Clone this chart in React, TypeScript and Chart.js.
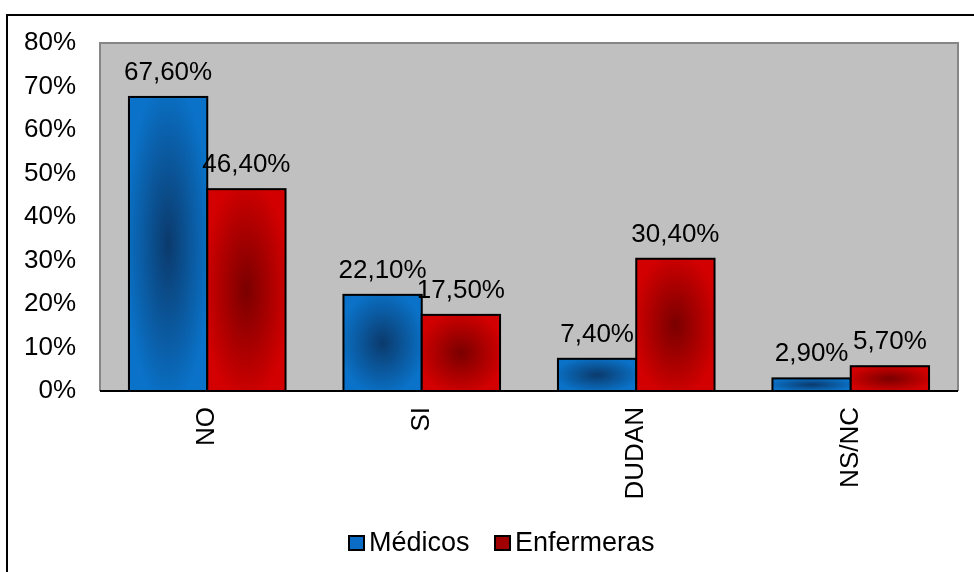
import React, { useEffect, useRef } from "react";
import { Chart, registerables } from "chart.js";

Chart.register(...registerables);

const categories = ["NO", "SI", "DUDAN", "NS/NC"];
const medicos = [67.6, 22.1, 7.4, 2.9];
const enfermeras = [46.4, 17.5, 30.4, 5.7];
const seriesNames = ["Médicos", "Enfermeras"];
const yMax = 80;
const yStep = 10;

const FONT = "'Liberation Sans', Arial, sans-serif";

const fmt = (v: number) => v.toFixed(2).replace(".", ",") + "%";

const gradColors = [
  { center: "#0b3a6c", edge: "#0a72c8" },
  { center: "#7a0000", edge: "#d20000" },
];

const customPlugin = {
  id: "custom",
  beforeDraw(chart: any) {
    const { ctx, chartArea } = chart;
    ctx.save();
    ctx.fillStyle = "#ffffff";
    ctx.fillRect(0, 0, chart.width, chart.height);
    // outer frame
    ctx.strokeStyle = "#000000";
    ctx.lineWidth = 2;
    ctx.beginPath();
    ctx.moveTo(7, chart.height);
    ctx.lineTo(7, 15);
    ctx.lineTo(chart.width, 15);
    ctx.stroke();
    // plot area
    ctx.fillStyle = "#c0c0c0";
    ctx.fillRect(chartArea.left, chartArea.top, chartArea.right - chartArea.left, chartArea.bottom - chartArea.top);
    ctx.strokeStyle = "#868686";
    ctx.lineWidth = 2;
    ctx.beginPath();
    ctx.moveTo(chartArea.left, chartArea.bottom);
    ctx.lineTo(chartArea.left, chartArea.top);
    ctx.lineTo(chartArea.right, chartArea.top);
    ctx.lineTo(chartArea.right, chartArea.bottom);
    ctx.stroke();
    ctx.restore();
  },
  afterDatasetsDraw(chart: any) {
    const { ctx, chartArea } = chart;
    ctx.save();
    chart.data.datasets.forEach((ds: any, di: number) => {
      const meta = chart.getDatasetMeta(di);
      meta.data.forEach((bar: any) => {
        const left = bar.x - bar.width / 2;
        const top = Math.min(bar.y, bar.base);
        const h = Math.abs(bar.base - bar.y);
        const w = bar.width;
        const cx = left + w / 2;
        const cy = top + h / 2;
        ctx.save();
        ctx.beginPath();
        ctx.rect(left, top, w, h);
        ctx.clip();
        ctx.translate(cx, cy);
        ctx.scale(w / 2, h / 2);
        const g = ctx.createRadialGradient(0, 0, 0, 0, 0, 1.1);
        g.addColorStop(0, gradColors[di].center);
        g.addColorStop(1, gradColors[di].edge);
        ctx.fillStyle = g;
        ctx.fillRect(-1.2, -1.2, 2.4, 2.4);
        ctx.restore();
        ctx.strokeStyle = "#000000";
        ctx.lineWidth = 2;
        ctx.strokeRect(left, top, w, h);
      });
    });
    // x baseline
    ctx.strokeStyle = "#000000";
    ctx.lineWidth = 2;
    ctx.beginPath();
    ctx.moveTo(chartArea.left, chartArea.bottom);
    ctx.lineTo(chartArea.right, chartArea.bottom);
    ctx.stroke();
    // data labels
    ctx.fillStyle = "#000000";
    ctx.font = `26px ${FONT}`;
    ctx.textAlign = "center";
    ctx.textBaseline = "alphabetic";
    chart.data.datasets.forEach((ds: any, di: number) => {
      const meta = chart.getDatasetMeta(di);
      meta.data.forEach((bar: any, i: number) => {
        ctx.fillText(fmt(ds.data[i]), bar.x, bar.y - 17);
      });
    });
    ctx.restore();
  },
  afterDraw(chart: any) {
    const { ctx } = chart;
    ctx.save();
    ctx.font = `27px ${FONT}`;
    ctx.textBaseline = "middle";
    ctx.textAlign = "left";
    const cy = 543;
    const items = [
      { x: 349, label: seriesNames[0], color: "#0a6cc4" },
      { x: 495, label: seriesNames[1], color: "#a00000" },
    ];
    items.forEach((it) => {
      ctx.fillStyle = it.color;
      ctx.fillRect(it.x, cy - 7, 15, 14);
      ctx.strokeStyle = "#000000";
      ctx.lineWidth = 2;
      ctx.strokeRect(it.x, cy - 7, 15, 14);
      ctx.fillStyle = "#000000";
      ctx.fillText(it.label, it.x + 20, cy + 1);
    });
    ctx.restore();
  },
};

export default function App() {
  const ref = useRef<HTMLCanvasElement | null>(null);
  useEffect(() => {
    if (!ref.current) return;
    const chart = new Chart(ref.current, {
      type: "bar",
      data: {
        labels: categories,
        datasets: [
          { label: seriesNames[0], data: medicos, backgroundColor: "rgba(0,0,0,0)", borderWidth: 0 },
          { label: seriesNames[1], data: enfermeras, backgroundColor: "rgba(0,0,0,0)", borderWidth: 0 },
        ],
      },
      options: {
        responsive: false,
        animation: false,
        devicePixelRatio: 1,
        layout: { padding: { top: 43, right: 16, left: 0, bottom: 0 } },
        datasets: { bar: { categoryPercentage: 0.73, barPercentage: 1 } },
        plugins: { legend: { display: false }, tooltip: { enabled: false } },
        scales: {
          x: {
            grid: { display: false, drawTicks: false },
            border: { display: false },
            ticks: {
              color: "#000000",
              font: { family: FONT, size: 26 },
              maxRotation: 90,
              minRotation: 90,
              autoSkip: false,
              padding: 16,
            },
            afterFit: (s: any) => {
              s.height = 181;
            },
          },
          y: {
            min: 0,
            max: yMax,
            grid: { display: false, drawTicks: false },
            border: { display: false },
            ticks: {
              stepSize: yStep,
              color: "#000000",
              font: { family: FONT, size: 26 },
              padding: 24,
              callback: (v: any) => `${v}%`,
            },
            afterFit: (s: any) => {
              s.width = 100;
            },
          },
        },
      },
      plugins: [customPlugin],
    });
    return () => chart.destroy();
  }, []);
  return (
    <div style={{ position: "absolute", left: 0, top: 0, width: 974, height: 572 }}>
      <canvas ref={ref} width={974} height={572} style={{ display: "block", width: 974, height: 572 }} />
    </div>
  );
}
